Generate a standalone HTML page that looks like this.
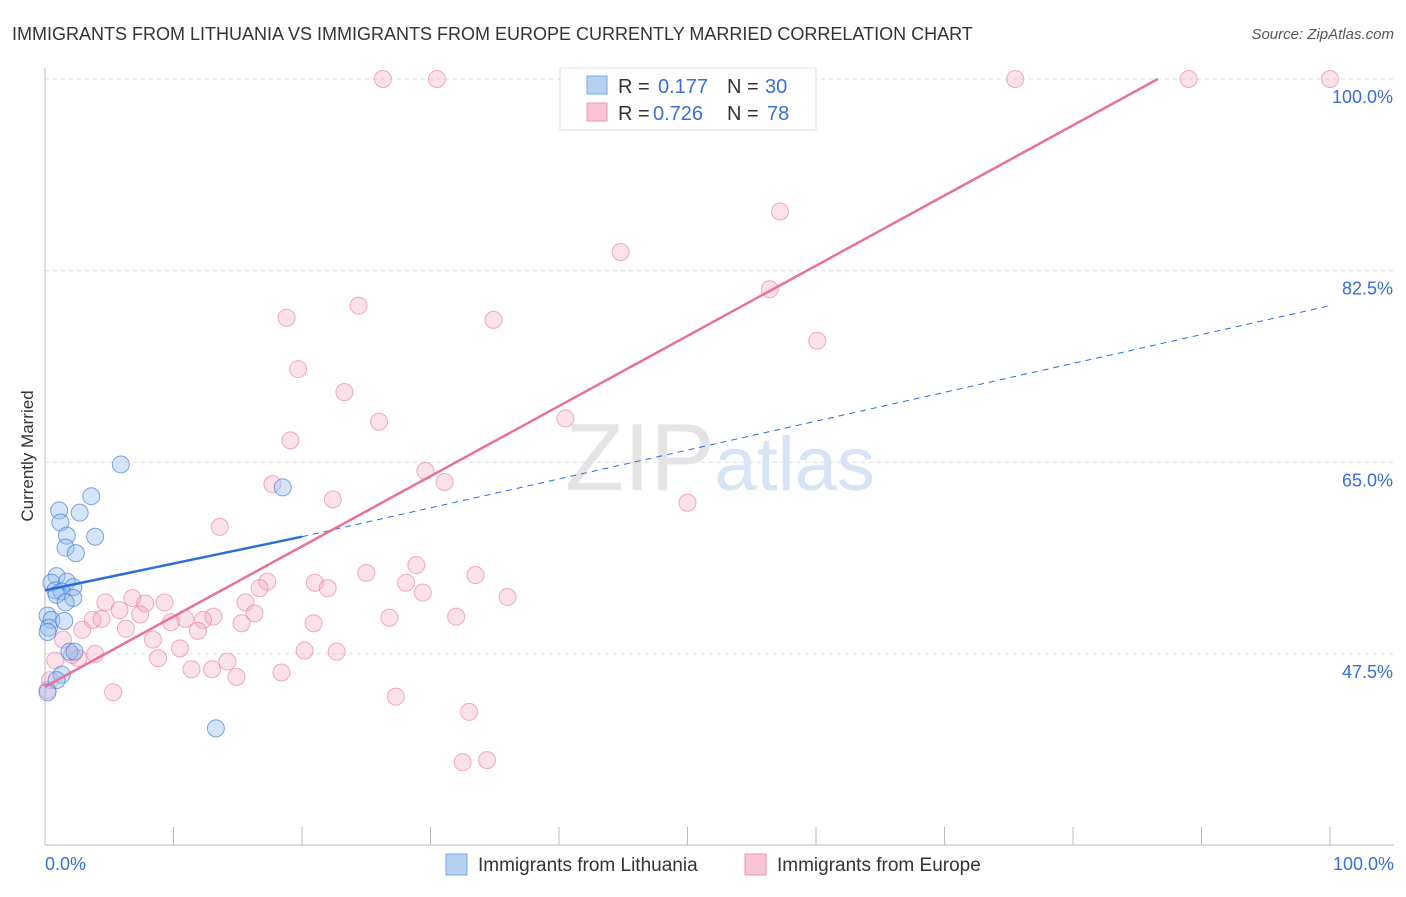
<!DOCTYPE html>
<html><head><meta charset="utf-8"><style>
body{margin:0;background:#fff;font-family:"Liberation Sans",sans-serif;}
svg text{font-family:"Liberation Sans",sans-serif;}
</style></head><body>
<svg id="chart" width="1406" height="892" xmlns="http://www.w3.org/2000/svg">
<text x="12" y="40" font-size="18" fill="#333">IMMIGRANTS FROM LITHUANIA VS IMMIGRANTS FROM EUROPE CURRENTLY MARRIED CORRELATION CHART</text>
<text x="1394" y="39" font-size="15" fill="#555" text-anchor="end" font-style="italic">Source: ZipAtlas.com</text>
<text transform="translate(33,456) rotate(-90)" font-size="17" fill="#333" text-anchor="middle">Currently Married</text>
<g id="grid"></g>
<text x="720" y="490" font-size="96" text-anchor="middle" fill="#e4e4e4" font-family="Liberation Serif">ZIP<tspan fill="#d6e4f5" font-family="Liberation Sans" font-size="76">atlas</tspan></text>
<g id="marks"></g>
<g id="legend-box">
<rect x="560" y="68" width="256" height="62" fill="#fff" stroke="#ddd"/>
<rect x="587" y="76" width="20" height="18" fill="#b6d0f3" stroke="#7aa6e4"/>
<rect x="587" y="103" width="20" height="18" fill="#f8c3d4" stroke="#ec94b1"/>
<text x="618" y="93" font-size="20" fill="#333">R =</text>
<text x="658" y="93" font-size="20" fill="#3a6fd0">0.177</text>
<text x="727" y="93" font-size="20" fill="#333">N =</text>
<text x="765" y="93" font-size="20" fill="#3a6fd0">30</text>
<text x="618" y="120" font-size="20" fill="#333">R =</text>
<text x="653" y="120" font-size="20" fill="#3a6fd0">0.726</text>
<text x="727" y="120" font-size="20" fill="#333">N =</text>
<text x="767" y="120" font-size="20" fill="#3a6fd0">78</text>
</g>
<g>
<rect x="446" y="854" width="21" height="21" fill="#b6d0f3" stroke="#7aa6e4"/>
<text x="478" y="871" font-size="19" fill="#333">Immigrants from Lithuania</text>
<rect x="745" y="854" width="21" height="21" fill="#f8c3d4" stroke="#ec94b1"/>
<text x="777" y="871" font-size="19" fill="#333">Immigrants from Europe</text>
</g>
</svg>
<script>
const yTicks=[100,82.5,65,47.5];
const yTickLabels=["100.0%","82.5%","65.0%","47.5%"];
const xTickLabels=["0.0%","100.0%"];
const blueX=[5.9,18.5,3.6,1.1,2.7,1.2,1.7,3.9,1.6,2.4,0.9,0.5,1.7,2.2,0.8,1.3,0.9,2.2,1.6,0.2,0.5,1.5,0.3,0.2,1.9,1.3,0.9,0.2,13.3,2.3];
const blueY=[64.8,62.7,61.9,60.6,60.4,59.5,58.3,58.2,57.2,56.7,54.6,54.0,54.1,53.6,53.3,53.2,52.9,52.6,52.2,51.0,50.6,50.5,49.9,49.5,47.7,45.6,45.1,44.0,40.7,47.7];
const pinkX=[26.3,30.5,47.5,75.5,89.0,100,57.2,44.8,56.4,18.8,24.4,34.9,60.1,19.7,23.3,26.0,40.5,19.1,29.6,17.7,31.1,22.4,50.0,13.6,28.9,25.0,33.5,17.3,28.1,16.7,21.0,22.0,29.4,36.0,4.7,6.8,7.8,9.3,15.6,5.8,7.4,3.7,4.4,13.1,10.9,12.3,16.3,26.8,32.0,15.3,9.8,20.9,2.9,6.3,11.9,8.4,1.4,10.5,3.9,2.1,20.2,22.7,8.8,14.2,11.4,13.0,14.9,18.4,5.3,27.3,33.0,32.5,34.4,0.8,0.4,0.2,2.6];
const pinkY=[100,100,100,100,100,100,87.9,84.2,80.8,78.2,79.3,78.0,76.1,73.5,71.4,68.7,69.0,67.0,64.2,63.0,63.2,61.6,61.3,59.1,55.6,54.9,54.7,54.1,54.0,53.5,54.0,53.5,53.1,52.7,52.2,52.6,52.1,52.2,52.2,51.5,51.1,50.6,50.7,50.9,50.7,50.6,51.2,50.8,50.9,50.3,50.4,50.3,49.7,49.8,49.6,48.8,48.8,48.0,47.5,47.4,47.8,47.7,47.1,46.8,46.1,46.1,45.4,45.8,44.0,43.6,42.2,37.6,37.8,46.9,45.1,44.2,47.1];
const X0=45,X1=1330,Y100=79,PX_PER=10.95;
const sx=v=>X0+(X1-X0)*v/100;
const sy=v=>Y100+(100-v)*PX_PER;
const NS="http://www.w3.org/2000/svg";
const grid=document.getElementById('grid'),marks=document.getElementById('marks');
function mk(tag,attrs,parent){const e=document.createElementNS(NS,tag);for(const k in attrs)e.setAttribute(k,attrs[k]);parent.appendChild(e);return e;}
yTicks.forEach((t,i)=>{
 const l=mk('line',{x1:45,x2:1394,y1:sy(t),y2:sy(t),stroke:'#ddd','stroke-dasharray':'4,4'},grid);
 
 
 const tx=mk('text',{x:1393,y:sy(t)+24,'font-size':18,fill:'#3a6fd0','text-anchor':'end'},grid);
 tx.textContent=yTickLabels[i];
 
 
});
const ax=mk('line',{x1:45,x2:45,y1:68,y2:845,stroke:'#bbb'},grid);


const bx=mk('line',{x1:45,x2:1394,y1:845,y2:845,stroke:'#bbb'},grid);


for(let i=0;i<=10;i++){
 const t=mk('line',{x1:sx(i*10),x2:sx(i*10),y1:827,y2:845,stroke:'#bbb'},grid);
 
 
}
[[0,'start',45],[1,'end',1394]].forEach(([i,a,x])=>{
 const tx=mk('text',{x:x,y:870,'font-size':18,fill:'#3a6fd0','text-anchor':a},grid);
 tx.textContent=xTickLabels[i];
 
 
});
pinkX.forEach((v,i)=>{
 const c=mk('circle',{cx:sx(v),cy:sy(pinkY[i]),r:8.5,fill:'rgba(244,170,195,0.35)',stroke:'rgba(230,120,160,0.6)'},marks);
 
 
});
blueX.forEach((v,i)=>{
 const c=mk('circle',{cx:sx(v),cy:sy(blueY[i]),r:8.5,fill:'rgba(150,190,240,0.4)',stroke:'rgba(60,120,210,0.65)'},marks);
 
 
});
const bl=mk('line',{x1:sx(0),y1:sy(53.3),x2:sx(20),y2:sy(58.2),stroke:'#2a6fd6','stroke-width':2.5},marks);


const bd=mk('line',{x1:sx(20),y1:sy(58.2),x2:sx(100),y2:sy(79.3),stroke:'#2a6fd6','stroke-width':1,'stroke-dasharray':'6,5'},marks);


const pl=mk('line',{x1:sx(0),y1:sy(44.5),x2:sx(86.6),y2:sy(100),stroke:'#e8709a','stroke-width':2.5},marks);


</script>
</body></html>
